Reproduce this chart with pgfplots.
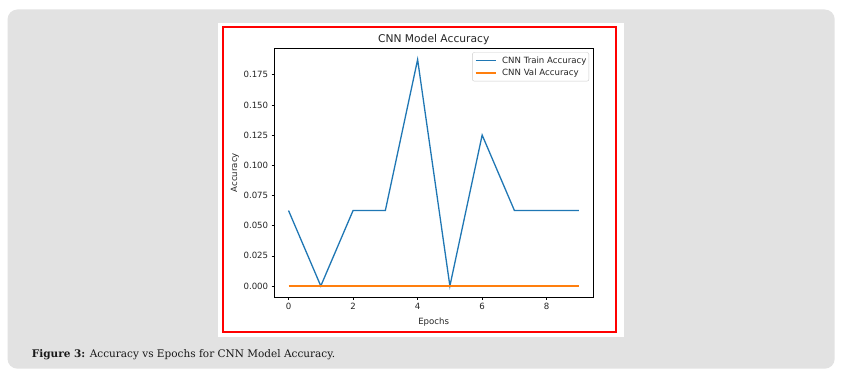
\documentclass[border=0pt]{standalone}
\usepackage{fontspec}
\setmainfont{DejaVu Sans}
\newfontfamily\capfont{DejaVu Serif}
\usepackage{pgfplots}
\pgfplotsset{compat=1.18}
\definecolor{panel}{HTML}{E2E2E2}
\definecolor{mplblue}{HTML}{1F77B4}
\definecolor{mplorange}{HTML}{FF7F0E}
\definecolor{tick}{HTML}{262626}
\begin{document}
\begin{tikzpicture}
% background
\fill[white] (0bp,0bp) rectangle (852bp,378bp);
\fill[panel, rounded corners=10bp] (7.5bp,9.3bp) rectangle (834.7bp,368.5bp);
\fill[white] (218.3bp,41.3bp) rectangle (624bp,354.7bp);
\draw[red, line width=2bp] (223bp,46.3bp) rectangle (616.3bp,351bp);
\begin{axis}[
  name=ax,
  at={(274bp,80.7bp)}, anchor=south west,
  scale only axis, width=319.5bp, height=249bp,
  xmin=-0.45, xmax=9.45, ymin=-0.009375, ymax=0.196875,
  xtick={0,2,4,6,8},
  ytick={0,0.025,0.05,0.075,0.1,0.125,0.15,0.175},
  scaled y ticks=false,
  yticklabel style={/pgf/number format/.cd, fixed, fixed zerofill, precision=3},
  /pgf/number format/assume math mode=true,
  tick align=outside, tick pos=left,
  major tick length=2.3bp,
  axis line style={line width=0.55bp, black},
  every tick/.style={black, line width=0.55bp},
  ticklabel style={font=\fontsize{8.6bp}{10bp}\selectfont, text=tick},
  legend style={at={(1,1)}, anchor=north east, xshift=-4.4bp, yshift=-4bp,
    draw=black!20, rounded corners=2bp, fill=white,
    font=\fontsize{8.6bp}{10bp}\selectfont, text=tick,
    inner xsep=2.5bp, inner ysep=4bp, row sep=4.6bp, column sep=6bp,
    nodes={inner sep=0bp}},
  legend cell align=left,
  legend image code/.code={\draw[#1] (0bp,0bp) -- (20bp,0bp);},
]
\addplot[mplblue, line width=1.3bp] coordinates {
  (0,0.0625) (1,0) (2,0.0625) (3,0.0625) (4,0.1875)
  (5,0) (6,0.125) (7,0.0625) (8,0.0625) (9,0.0625)};
\addlegendentry{CNN Train Accuracy}
\addplot[mplorange, line width=1.3bp] coordinates {
  (0,0) (1,0) (2,0) (3,0) (4,0) (5,0) (6,0) (7,0) (8,0) (9,0)};
\addlegendentry{CNN Val Accuracy}
\end{axis}
% title and labels
\node[anchor=base, inner sep=0pt, font=\fontsize{10.7bp}{12bp}\selectfont, text=tick] at (433.7bp,335bp) {CNN Model Accuracy};
\node[anchor=base, inner sep=0pt, font=\fontsize{8.6bp}{10bp}\selectfont, text=tick] at (433.7bp,53.9bp) {Epochs};
\node[anchor=base, rotate=90, inner sep=0pt, font=\fontsize{8.6bp}{10bp}\selectfont, text=tick] at (237.1bp,205.2bp) {Accuracy};
% caption
\node[anchor=base west, inner sep=0pt, font=\capfont\fontsize{10.5bp}{12bp}\selectfont, text=black!90] at (31.7bp,20.9bp) {\textbf{Figure 3:} Accuracy vs Epochs for CNN Model Accuracy.};
\end{tikzpicture}
\end{document}
